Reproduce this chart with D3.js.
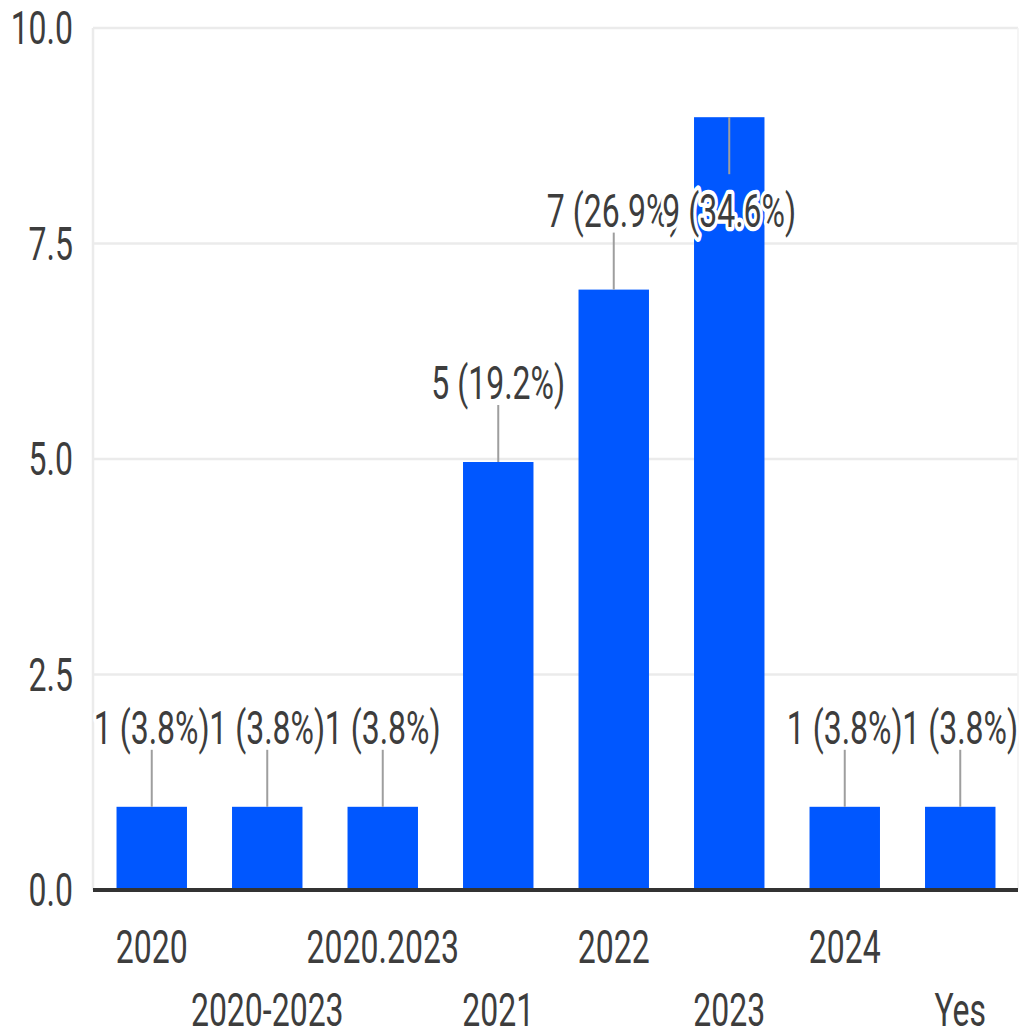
<!DOCTYPE html>
<html>
<head>
<meta charset="utf-8">
<script src="https://cdn.jsdelivr.net/npm/d3@7/dist/d3.min.js"></script>
<style>
  html, body { margin: 0; padding: 0; background: #fff; }
  svg { display: block; }
  text { font-family: Roboto, "Noto Sans", sans-serif; }
</style>
</head>
<body>
<div id="chart"></div>
<script>
const categories = ["2020", "2020-2023", "2020.2023", "2021", "2022", "2023", "2024", "Yes"];
const counts = [1, 1, 1, 5, 7, 9, 1, 1];
const percents = ["3.8%", "3.8%", "3.8%", "19.2%", "26.9%", "34.6%", "3.8%", "3.8%"];
const yTicks = [0, 2.5, 5, 7.5, 10];
const yTickLabels = ["0.0", "2.5", "5.0", "7.5", "10.0"];

const W = 1023, H = 1034;
const FS = 32, SY = 1.45;           // condensed look: Roboto stretched vertically
const capH = 0.711 * FS * SY;
const textColor = "#3d3d3d";
const barColor = "#0057ff";

const svg = d3.select("#chart").append("svg")
  .attr("width", W).attr("height", H);

const x = d3.scaleBand()
  .domain(categories)
  .range([94, 1018])
  .paddingInner(0.39)
  .paddingOuter(0.195);

const y = d3.scaleLinear().domain([0, 10]).range([890, 28]);

// gridlines
svg.append("g").selectAll("line")
  .data(yTicks.filter(t => t !== 0))
  .join("line")
  .attr("x1", 93).attr("x2", 1018)
  .attr("y1", d => y(d)).attr("y2", d => y(d))
  .attr("stroke", "#ebebeb").attr("stroke-width", 2.5);

// left and right frame lines
svg.append("line").attr("x1", 93).attr("x2", 93)
  .attr("y1", y(10)).attr("y2", y(0))
  .attr("stroke", "#ebebeb").attr("stroke-width", 2.5);
svg.append("line").attr("x1", 1018).attr("x2", 1018)
  .attr("y1", y(10)).attr("y2", y(0))
  .attr("stroke", "#f2f2f2").attr("stroke-width", 1.5);

// y tick labels
svg.append("g").selectAll("text")
  .data(yTicks)
  .join("text")
  .attr("transform", d => `translate(73,${y(d) + capH / 2}) scale(1,${SY})`)
  .attr("text-anchor", "end")
  .attr("font-size", FS)
  .attr("fill", textColor)
  .text((d, i) => yTickLabels[i]);

// bars
const data = categories.map((c, i) => ({ c, v: counts[i], p: percents[i] }));
svg.append("g").selectAll("rect")
  .data(data)
  .join("rect")
  .attr("x", d => x(d.c))
  .attr("width", x.bandwidth())
  .attr("y", d => y(d.v) + 3)
  .attr("height", d => y(0) - y(d.v) - 3)
  .attr("fill", barColor);

// zero baseline
svg.append("line").attr("x1", 93).attr("x2", 1018)
  .attr("y1", y(0)).attr("y2", y(0))
  .attr("stroke", "#333").attr("stroke-width", 4);

// x labels (staggered in two rows)
svg.append("g").selectAll("text")
  .data(categories)
  .join("text")
  .attr("transform", (d, i) => `translate(${x(d) + x.bandwidth() / 2},${i % 2 === 0 ? 963 : 1026}) scale(1,${SY})`)
  .attr("text-anchor", "middle")
  .attr("font-size", FS)
  .attr("fill", textColor)
  .text(d => d);

// data labels with leader lines
const labelG = svg.append("g");
function labelBase(top) {
  let b = top - 63;
  if (b - capH < 60) b = top + 110;  // too close to the top: drop label into the bar
  return b;
}
data.forEach(d => {
  const cx = x(d.c) + x.bandwidth() / 2;
  const top = y(d.v) + 3;
  const b = labelBase(top);
  const lineEnd = b < top ? b + 6 : b - capH - 20;
  labelG.append("line")
    .attr("x1", cx).attr("x2", cx)
    .attr("y1", top).attr("y2", lineEnd)
    .attr("stroke", "#9e9e9e").attr("stroke-width", 2);
});
data.forEach(d => {
  const cx = x(d.c) + x.bandwidth() / 2;
  const top = y(d.v) + 3;
  labelG.append("text")
    .attr("transform", `translate(${cx},${labelBase(top)}) scale(1,${SY})`)
    .attr("text-anchor", "middle")
    .attr("font-size", FS)
    .attr("fill", textColor)
    .attr("stroke", "#fff")
    .attr("stroke-width", 6)
    .attr("stroke-linejoin", "round")
    .attr("paint-order", "stroke")
    .text(`${d.v} (${d.p})`);
});
</script>
</body>
</html>
